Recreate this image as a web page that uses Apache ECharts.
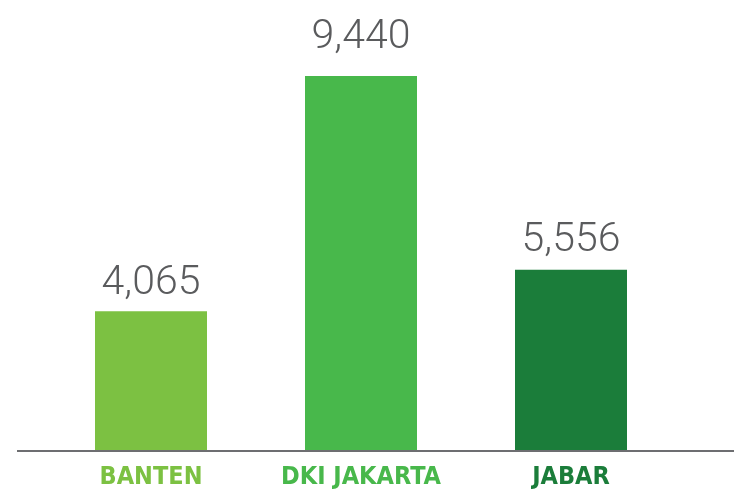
<!DOCTYPE html>
<html>
<head>
<meta charset="utf-8">
<script src="https://cdn.jsdelivr.net/npm/echarts@6/dist/echarts.min.js"></script>
<style>
    html, body { margin: 0; padding: 0; background: #fff; }
    #chart { width: 734px; height: 490px; }
</style>
</head>
<body>
<div id="chart"></div>
<script>
// categories and printed values
const regions = ["BANTEN", "DKI JAKARTA", "JABAR"]
const values = [4065, 9440, 5556]
// bar heights as drawn in the picture (not to scale with the printed values)
const barHeights = [3520, 9440, 4560]
const barColors = ["#7cc142", "#48b84b", "#1b7d3a"]
// gap between value label and bar top
const labelGaps = [7, 18, 9]

setRegionChart()

function setRegionChart() {
    const myChart = echarts.init(document.getElementById("chart"))

    // one rich style per category so each label gets its bar colour
    const richStyles = {}
    regions.forEach(function (r, i) {
        richStyles['c' + i] = {
            color: barColors[i],
            fontFamily: "'DejaVu Sans Condensed', sans-serif",
            fontWeight: 'bold',
            fontSize: 25
        }
    })

    const option = {
        animation: false,
        grid: {
            left: 46,
            right: 58,
            top: 76,
            bottom: 39
        },
        xAxis: {
            type: 'category',
            data: regions,
            axisLine: { show: false },
            axisTick: { show: false },
            axisLabel: {
                interval: 0,
                margin: 14,
                formatter: function (v) {
                    return '{c' + regions.indexOf(v) + '|' + v + '}'
                },
                rich: richStyles
            }
        },
        yAxis: {
            type: 'value',
            min: 0,
            max: 9440,
            show: false,
            splitLine: { show: false }
        },
        series: [{
            type: 'bar',
            barWidth: 112,
            data: barHeights.map(function (h, i) {
                return {
                    value: h,
                    itemStyle: { color: barColors[i] },
                    label: { distance: labelGaps[i] }
                }
            }),
            label: {
                show: true,
                position: 'top',
                fontFamily: 'Roboto, sans-serif',
                fontWeight: 300,
                fontSize: 41,
                color: '#5a5b5d',
                formatter: function (p) {
                    return values[p.dataIndex].toLocaleString('en-US')
                }
            }
        }],
        graphic: [{
            // baseline runs past the plot area on both sides
            type: 'line',
            shape: { x1: 17, y1: 451, x2: 734, y2: 451 },
            style: { stroke: '#6d6e71', lineWidth: 2 },
            z: 10
        }]
    }
    myChart.setOption(option)
}
</script>
</body>
</html>
